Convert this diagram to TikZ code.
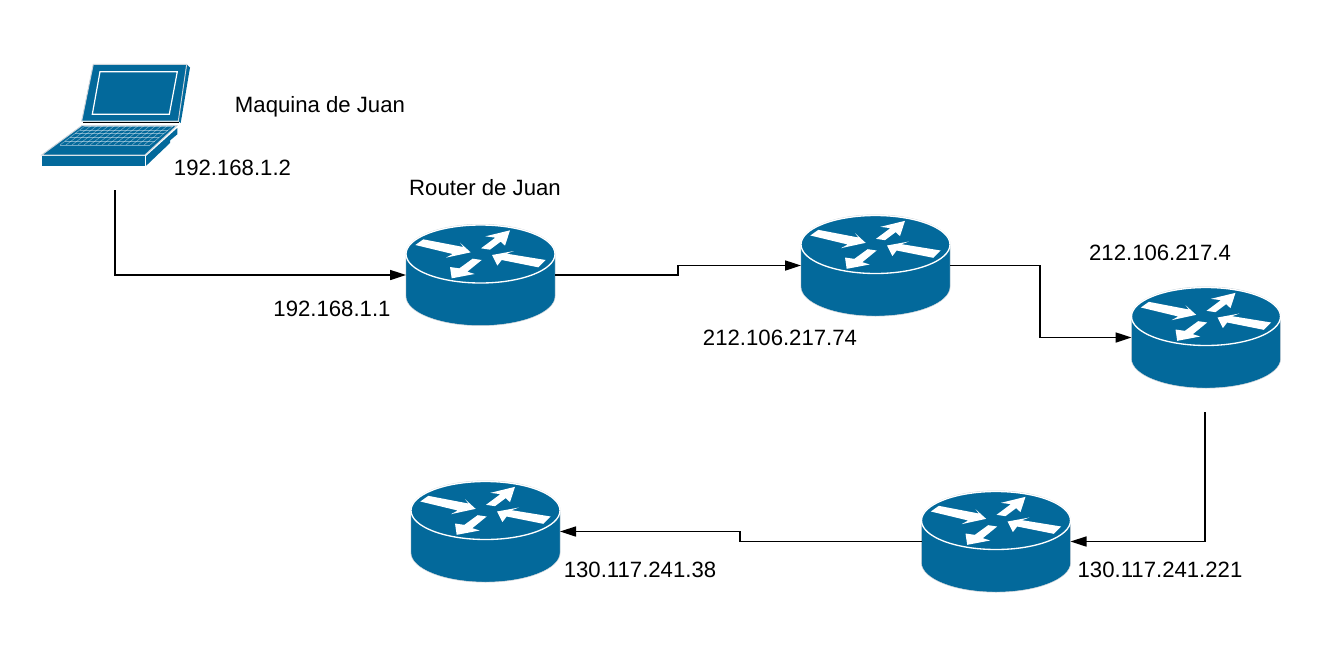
\documentclass[tikz,border=0pt]{standalone}
\usepackage{fontspec}
\setmainfont{Liberation Sans}
\usetikzlibrary{arrows.meta}
\definecolor{ciscoblue}{RGB}{3,105,155}
\definecolor{halo}{RGB}{205,212,218}
\tikzset{
  rbox/.style={rectangle,minimum width=111.75pt,minimum height=75.75pt,inner sep=0pt,outer sep=0pt},
  lbl/.style={font=\fontsize{16.62pt}{20pt}\selectfont,text=black,inner sep=0pt,anchor=base},
  link/.style={draw=black,line width=1.25pt,-{Triangle[length=12pt,width=7.5pt]},rounded corners=0pt},
  pics/routerpic/.style={code={
    \draw[halo,line width=.7pt,fill=ciscoblue] (-74.5,-21) -- (-74.5,21) arc[start angle=180,end angle=0,x radius=74.5,y radius=29.5] -- (74.5,-21) arc[start angle=0,end angle=-180,x radius=74.5,y radius=29.5] -- cycle;
    \fill[ciscoblue] (-74.2,-21) -- (-74.2,21) arc[start angle=180,end angle=0,x radius=74.2,y radius=29.2] -- (74.2,-21) -- cycle;
    \draw[white,line width=1pt,fill=ciscoblue] (0,-21) circle[x radius=74.5,y radius=29];
    \begin{scope}[x=.25pt,y=-.25pt,shift={(-211.5,-150)}]
      \fill[white] (16,60) -- (40,43) -- (160,66) -- (150,53) -- (182,82) -- (108,98) -- (128,87) -- cycle;
      \fill[white] (213,70) -- (256,38) -- (226,34) -- (300,16) -- (285,62) -- (272,50) -- (240,74) -- cycle;
      \fill[white] (407,105) -- (385,127) -- (275,105) -- (262,122) -- (246,90) -- (312,78) -- (290,86) -- cycle;
      \fill[white] (215,105) -- (188,101) -- (148,130) -- (120,126) -- (125,160) -- (194,147) -- (172,140) -- cycle;
    \end{scope}
  }},
}
\begin{document}
\begin{tikzpicture}[x=.75pt,y=-.75pt]
\useasboundingbox (0,0) rectangle (1320,657);
\fill[white] (0,0) rectangle (1320,657);

% laptop
\node[rectangle,minimum width=112.5pt,minimum height=78pt,inner sep=0pt] (laptop) at (115,115) {};
\coordinate (lapout) at (115,190);
\coordinate (r3out) at (1205,412);
% lid
\fill[ciscoblue] (186.7,64.3) -- (190,67.5) -- (180.7,123) -- (178.3,121) -- cycle;
\draw[halo,line width=.7pt,fill=ciscoblue] (93.3,64.3) -- (186.7,64.3) -- (178.3,121) -- (81.7,121) -- cycle;
\draw[white,line width=.9pt,fill=ciscoblue] (100,71.7) -- (177.3,71.7) -- (169.3,114.3) -- (92.3,114.3) -- cycle;
\draw[black,line width=1.1pt] (83,122.7) -- (179,122.7);
% base
\draw[halo,line width=.7pt,fill=ciscoblue] (81.7,125.7) -- (176.7,125.7) -- (145,155) -- (41.7,155) -- cycle;
\fill[ciscoblue] (41.7,156.2) rectangle (145,165.7);
\fill[ciscoblue] (146.2,156) -- (177.3,128) -- (177.3,134.3) -- (170,140.5) -- (170,143) -- (146.2,165.7) -- cycle;
\foreach \t in {0,.2,.4,.6,.8,1}
  \draw[white,opacity=.45,line width=.4pt] ({85+\t*(60-85)},{126+\t*19}) -- ({173+\t*(150-173)},{126+\t*19});
\foreach \t in {0,...,15}
  \draw[white,opacity=.45,line width=.4pt] ({85+\t*88/15},126) -- ({60+\t*90/15},145);

% routers
\foreach \n/\cx/\cy in {r1/480.5/275,r2/875.5/265.5,r3/1206/337.5,r4/996/541.5,r5/485.5/531.5}{
  \pic at (\cx,\cy) {routerpic};
  \node[rbox] (\n) at (\cx,\cy) {};
}

% connectors
\draw[link] (lapout) |- (r1.west);
\draw[link] (r1.east) -- (678,275) -- (678,265.5) -- (r2.west);
\draw[link] (r2.east) -- (1040,265.5) -- (1040,337.5) -- (r3.west);
\draw[link] (r3out) |- (r4.east);
\draw[link] (r4.west) -- (740,541.5) -- (740,531.5) -- (r5.east);

% labels
\node[lbl] (t1) at (320,112) {Maquina de Juan};
\node[lbl] (t2) at (232.5,175) {192.168.1.2};
\node[lbl] (t3) at (485,195) {Router de Juan};
\node[lbl] (t4) at (332,316) {192.168.1.1};
\node[lbl] (t5) at (780,345) {212.106.217.74};
\node[lbl] (t6) at (1160,260) {212.106.217.4};
\node[lbl] (t7) at (1160,577) {130.117.241.221};
\node[lbl] (t8) at (640,577) {130.117.241.38};
\end{tikzpicture}
\end{document}
